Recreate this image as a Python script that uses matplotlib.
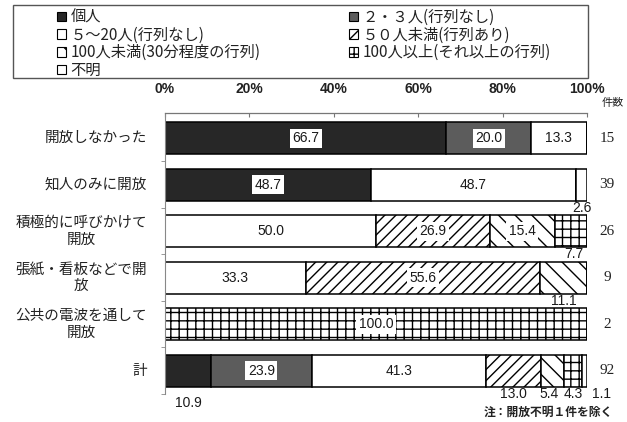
import matplotlib
matplotlib.use('Agg')
import matplotlib.pyplot as plt
import numpy as np
from matplotlib.patches import Rectangle, Patch
from matplotlib.transforms import blended_transform_factory, offset_copy

plt.rcParams['font.family'] = ['Noto Sans CJK JP', 'DejaVu Sans']
plt.rcParams['hatch.linewidth'] = 1.0

# ---------------- data ----------------
categories = ['開放しなかった', '知人のみに開放', '積極的に呼びかけて\n開放',
              '張紙・看板などで開\n放', '公共の電波を通して\n開放', '計']
series_names = ['個人', '２・３人(行列なし)', '５～20人(行列なし)', '５０人未満(行列あり)',
                '100人未満(30分程度の行列)', '100人以上(それ以上の行列)', '不明']
kojin        = [66.7, 48.7, 0.0, 0.0, 0.0, 10.9]
ni_san_nin   = [20.0, 0.0, 0.0, 0.0, 0.0, 23.9]
go_niju_nin  = [13.3, 48.7, 50.0, 33.3, 0.0, 41.3]
gojyu_miman  = [0.0, 0.0, 26.9, 55.6, 0.0, 13.0]
hyaku_miman  = [0.0, 0.0, 15.4, 11.1, 0.0, 5.4]
hyaku_ijo    = [0.0, 0.0, 7.7, 0.0, 100.0, 4.3]
fumei        = [0.0, 2.6, 0.0, 0.0, 0.0, 1.1]
counts = [15, 39, 26, 9, 2, 92]
xtick_labels = ['0%', '20%', '40%', '60%', '80%', '100%']
note = '注：開放不明１件を除く'

series_values = [kojin, ni_san_nin, go_niju_nin, gojyu_miman, hyaku_miman, hyaku_ijo, fumei]

# ---------------- style ----------------
facecolors = ['#272727', '#5c5c5c', 'white', 'white', 'white', 'white', 'white']
hatches = [None, None, None, '///', '\\\\', '++', None]
inside_threshold = 13.2
label_offsets_px = {(5, 0): (0, -9), (5, 6): (17, 0), (2, 5): (3, 0), (5, 4): (-3, 0)}

W, H = 627, 422
fig = plt.figure(figsize=(W / 100, H / 100), dpi=100)
ax = fig.add_axes([165 / W, 1 - 394 / H, 422 / W, (394 - 113) / H])

n = len(categories)
y = np.arange(n)
bar_h = 0.69
left = np.zeros(n)
bars_by_series = []
for vals, fc, hp in zip(series_values, facecolors, hatches):
    vals = np.array(vals)
    ax.barh(y, vals, left=left, height=bar_h, color=fc, edgecolor='black',
            linewidth=1.1, hatch=hp)
    bars_by_series.append((vals, left.copy()))
    left = left + vals

num_font = dict(family=['Liberation Sans', 'DejaVu Sans'], fontsize=10, color='#1a1a1a')
for si, (vals, lefts) in enumerate(bars_by_series):
    for ri in range(n):
        v = vals[ri]
        if v <= 0:
            continue
        xc = lefts[ri] + v / 2
        if v >= inside_threshold:
            ax.text(xc, y[ri], f'{v:.1f}', ha='center', va='center', **num_font,
                    bbox=dict(boxstyle='square,pad=0.18', fc='white', ec='none'))
        else:
            dx, dy = label_offsets_px.get((ri, si), (0, 0))
            ax.annotate(f'{v:.1f}', xy=(xc, y[ri] + bar_h / 2), xytext=(dx * 0.72, dy * 0.72),
                        textcoords='offset points', ha='center', va='top', **num_font)

ax.set_xlim(0, 100)
ax.set_ylim(n - 0.5, -0.54)
ax.xaxis.tick_top()
ax.set_xticks(np.linspace(0, 100, len(xtick_labels)))
ax.set_xticklabels(xtick_labels, family=['Liberation Sans', 'DejaVu Sans'], fontsize=10,
                   fontweight='bold', color='#222')
ax.tick_params(axis='x', length=3, direction='in', pad=12, color='#777')
ax.set_yticks(y)
ax.set_yticklabels([''] * n)
ax.tick_params(axis='y', length=0)
ax.set_yticks(np.arange(n) + 0.5, minor=True)
ax.tick_params(axis='y', which='minor', length=3, direction='out', color='#888')

# category labels (right aligned, lines centred)
tr_lab = offset_copy(blended_transform_factory(ax.transAxes, ax.transData),
                     fig=fig, x=-18, y=0, units='dots')
for ri, cat in enumerate(categories):
    ax.text(0, y[ri], cat, transform=tr_lab, ha='right', va='center',
            multialignment='center', fontsize=10.5, color='#222', linespacing=1.25)

for s in ['right', 'bottom']:
    ax.spines[s].set_visible(False)
ax.spines['left'].set_color('#888')
ax.spines['left'].set_linewidth(0.8)
ax.spines['top'].set_color('#777')
ax.spines['top'].set_linewidth(0.9)
ax.spines['top'].set_linestyle((0, (2, 1)))

tr = blended_transform_factory(ax.transAxes, ax.transData)
for ri, c in enumerate(counts):
    ax.text((607 - 165) / 422, y[ri], str(c), transform=tr, ha='center', va='center',
            family=['Liberation Serif', 'DejaVu Serif'], fontsize=11, color='#222')

fig.text(613 / W, 1 - 103 / H, '件数', ha='center', va='center', fontsize=8, color='#222')
fig.text(613 / W, 1 - 412 / H, note, ha='right', va='center', fontsize=8.5,
         fontweight='bold', color='#222')

# legend box
fig.add_artist(Rectangle((13 / W, 1 - 78 / H), 575 / W, 73 / H, transform=fig.transFigure,
                         fill=False, edgecolor='#555', linewidth=1.0))
handles = [Patch(facecolor=fc, edgecolor='black', hatch=hp, linewidth=0.8)
           for fc, hp in zip(facecolors, hatches)]
col1 = [0, 2, 4, 6]
col2 = [1, 3, 5]
leg_kw = dict(frameon=False, loc='upper left', fontsize=11, handlelength=0.6,
              handleheight=0.6, handletextpad=0.3, labelspacing=0.04, borderpad=0,
              borderaxespad=0)
leg1 = fig.legend([handles[i] for i in col1], [series_names[i] for i in col1],
                  bbox_to_anchor=(57 / W, 1 - 9 / H), **leg_kw)
leg2 = fig.legend([handles[i] for i in col2], [series_names[i] for i in col2],
                  bbox_to_anchor=(349 / W, 1 - 9 / H), **leg_kw)
for lg in (leg1, leg2):
    for t in lg.get_texts():
        t.set_color('#222')

fig.savefig('out.png', dpi=100)
